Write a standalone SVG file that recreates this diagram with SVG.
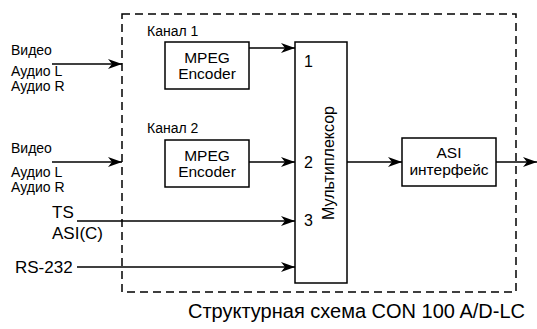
<svg xmlns="http://www.w3.org/2000/svg" width="537" height="329" viewBox="0 0 537 329">
<style>
.box{fill:#fff;stroke:#000;stroke-width:1.5}
.ln{stroke:#000;stroke-width:1.5;fill:none}
.dash{stroke:#000;stroke-width:1.5;fill:none;stroke-dasharray:8 5}
text{font-family:"Liberation Sans",Arial,sans-serif;fill:#000}
.s{font-size:14px}
.m{font-size:16px}
.e{font-size:15.5px}
.l{font-size:17px}
</style>
<defs>
<marker id="ah" markerWidth="14" markerHeight="10" refX="14" refY="5" orient="auto" markerUnits="userSpaceOnUse">
<path d="M0,0 L14,5 L0,10 L4,5 Z" fill="#000"/>
</marker>
</defs>
<rect width="537" height="329" fill="#fff"/>
<rect class="dash" x="122" y="14" width="394" height="278"/>
<g id="connectors">
<line class="ln" x1="52" y1="64" x2="122" y2="64" marker-end="url(#ah)"/>
<line class="ln" x1="52" y1="162" x2="122" y2="162" marker-end="url(#ah)"/>
<line class="ln" x1="249" y1="48" x2="295" y2="48" marker-end="url(#ah)"/>
<line class="ln" x1="249" y1="162" x2="295" y2="162" marker-end="url(#ah)"/>
<line class="ln" x1="77" y1="221" x2="295" y2="221" marker-end="url(#ah)"/>
<line class="ln" x1="77" y1="267" x2="295" y2="267" marker-end="url(#ah)"/>
<line class="ln" x1="347" y1="162" x2="402" y2="162" marker-end="url(#ah)"/>
<line class="ln" x1="496" y1="162" x2="537" y2="162" marker-end="url(#ah)"/>
</g>
<g id="in1">
<text class="s" x="11" y="55">Видео</text>
<text class="s" x="11" y="76">Аудио L</text>
<text class="s" x="11" y="91">Аудио R</text>
</g>
<g id="in2">
<text class="s" x="11" y="153">Видео</text>
<text class="s" x="11" y="177">Аудио L</text>
<text class="s" x="11" y="192">Аудио R</text>
</g>
<g id="ts">
<text class="l" x="52" y="218">TS</text>
<text class="l" x="52" y="239">ASI(C)</text>
</g>
<g id="rs232">
<text class="l" x="15" y="273">RS-232</text>
</g>
<g id="enc1">
<text class="s" x="147" y="36">Канал 1</text>
<rect class="box" x="165" y="42" width="84" height="47"/>
<text class="e" x="207" y="63" text-anchor="middle">MPEG</text>
<text class="e" x="207" y="79" text-anchor="middle">Encoder</text>
</g>
<g id="enc2">
<text class="s" x="147" y="133">Канал 2</text>
<rect class="box" x="165" y="140" width="84" height="47"/>
<text class="e" x="207" y="161" text-anchor="middle">MPEG</text>
<text class="e" x="207" y="177" text-anchor="middle">Encoder</text>
</g>
<g id="mux">
<rect class="box" x="295" y="42" width="52" height="241"/>
<text class="m" x="304" y="67">1</text>
<text class="m" x="304" y="168">2</text>
<text class="m" x="304" y="226">3</text>
<text class="m" transform="translate(334,163) rotate(-90)" text-anchor="middle">Мультиплексор</text>
</g>
<g id="asi">
<rect class="box" x="402" y="138" width="94" height="48"/>
<text class="e" x="449" y="158" text-anchor="middle">ASI</text>
<text class="e" x="449" y="175" text-anchor="middle">интерфейс</text>
</g>
<text x="525" y="318" font-size="20" text-anchor="end">Структурная схема CON 100 A/D-LC</text>
</svg>
